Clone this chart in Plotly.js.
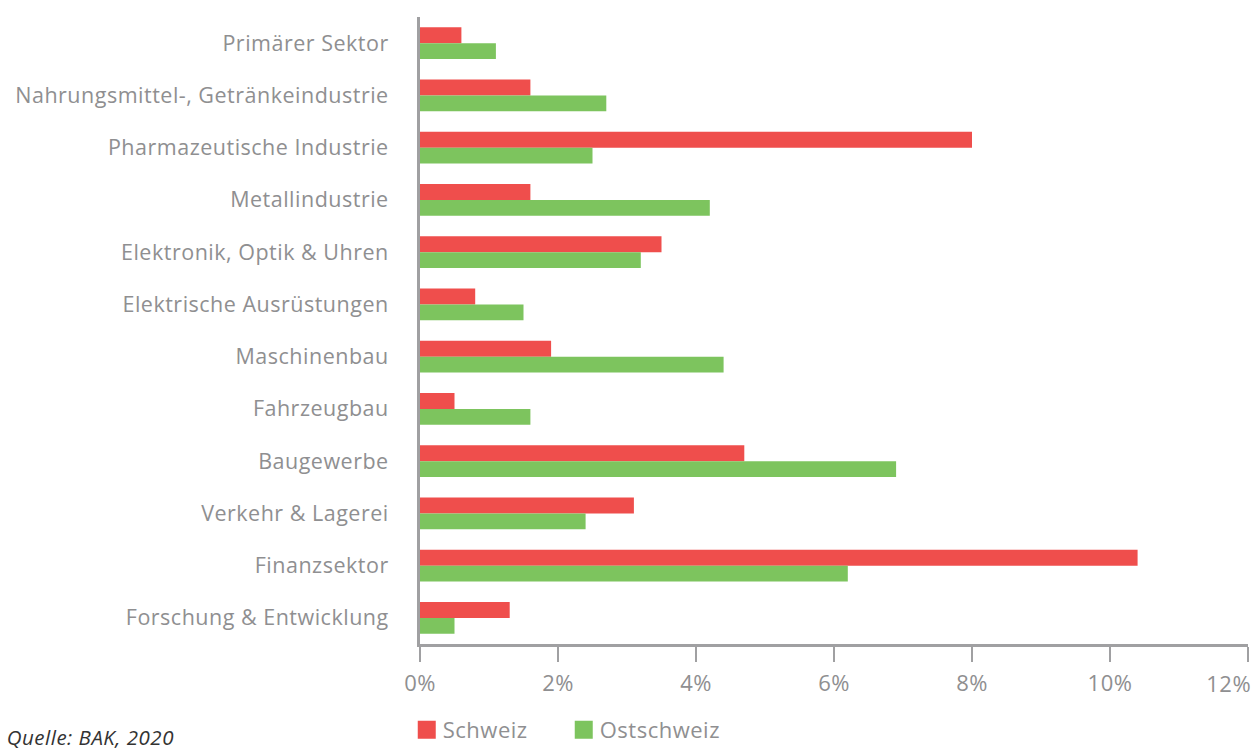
<!DOCTYPE html>
<html>
<head>
<meta charset="utf-8">
<script src="https://cdn.plot.ly/plotly-3.0.1.min.js"></script>
<style>
html,body{margin:0;padding:0;background:#fff;}
#chart{width:1252px;height:751px;}
#chart text{letter-spacing:0.5px;}
#chart .legendpoints path{d:path("M9,9H-9V-9H9Z");}
#chart .legendtext{transform:translateX(-4px);}
</style>
</head>
<body>
<div id="chart"></div>
<script>
const categories = [
  "Primärer Sektor",
  "Nahrungsmittel-, Getränkeindustrie",
  "Pharmazeutische Industrie",
  "Metallindustrie",
  "Elektronik, Optik & Uhren",
  "Elektrische Ausrüstungen",
  "Maschinenbau",
  "Fahrzeugbau",
  "Baugewerbe",
  "Verkehr & Lagerei",
  "Finanzsektor",
  "Forschung & Entwicklung"
];
const schweiz =    [0.6, 1.6, 8.0, 1.6, 3.5, 0.8, 1.9, 0.5, 4.7, 3.1, 10.4, 1.3];
const ostschweiz = [1.1, 2.7, 2.5, 4.2, 3.2, 1.5, 4.4, 1.6, 6.9, 2.4, 6.2, 0.5];
const xTickVals = [0, 2, 4, 6, 8, 10, 12];
const xTickText = ["0%", "2%", "4%", "6%", "8%", "10%", "12%"];
const seriesNames = ["Schweiz", "Ostschweiz"];
const sourceText = "Quelle: BAK, 2020";

const gray = "#8f8f91";
const font = "Open Sans, Noto Sans, sans-serif";
const lastTick = xTickVals.length - 1;

const data = [
  {type: "bar", orientation: "h", name: seriesNames[0], y: categories, x: schweiz,
   marker: {color: "#ef4e4c"}, hoverinfo: "none"},
  {type: "bar", orientation: "h", name: seriesNames[1], y: categories, x: ostschweiz,
   marker: {color: "#7dc45e"}, hoverinfo: "none"}
];

const layout = {
  width: 1252, height: 751,
  margin: {l: 420, r: 4, t: 17, b: 107},
  paper_bgcolor: "#fff", plot_bgcolor: "#fff",
  barmode: "group", bargap: 0.39, bargroupgap: 0,
  font: {family: font, color: gray, size: 20},
  showlegend: true,
  legend: {orientation: "h", x: -0.016, xanchor: "left", yref: "container", y: 0, yanchor: "bottom",
           font: {size: 22, color: gray}, itemwidth: 30, tracegroupgap: 0,
           entrywidth: 112, entrywidthmode: "pixels"},
  xaxis: {range: [0, 12.0001], tickvals: xTickVals,
          ticktext: xTickText.map((t, i) => i === lastTick ? "" : t),
          showgrid: false, zeroline: false, showline: true, linecolor: "#a0a0a2", linewidth: 3,
          ticks: "outside", ticklen: 15, tickwidth: 2, tickcolor: "#a0a0a2",
          tickfont: {size: 22, color: gray}, ticklabelstandoff: 3, fixedrange: true},
  yaxis: {type: "category", autorange: "reversed", showgrid: false, zeroline: false,
          showline: true, linecolor: "#a0a0a2", linewidth: 3, ticks: "",
          tickfont: {size: 21.5, color: gray}, ticklabelstandoff: 24, fixedrange: true},
  annotations: [
    {text: "<i>" + sourceText + "</i>", xref: "paper", yref: "paper", x: -0.496, y: -0.148,
     xanchor: "left", yanchor: "middle", showarrow: false,
     font: {size: 20.5, color: "#333333", family: font}},
    {text: xTickText[lastTick], xref: "x", yref: "paper", x: xTickVals[lastTick], y: -0.062,
     xanchor: "right", yanchor: "middle", showarrow: false, xshift: 4,
     font: {size: 22, color: gray, family: font}}
  ]
};

Plotly.newPlot("chart", data, layout, {displayModeBar: false, staticPlot: true});
</script>
</body>
</html>
